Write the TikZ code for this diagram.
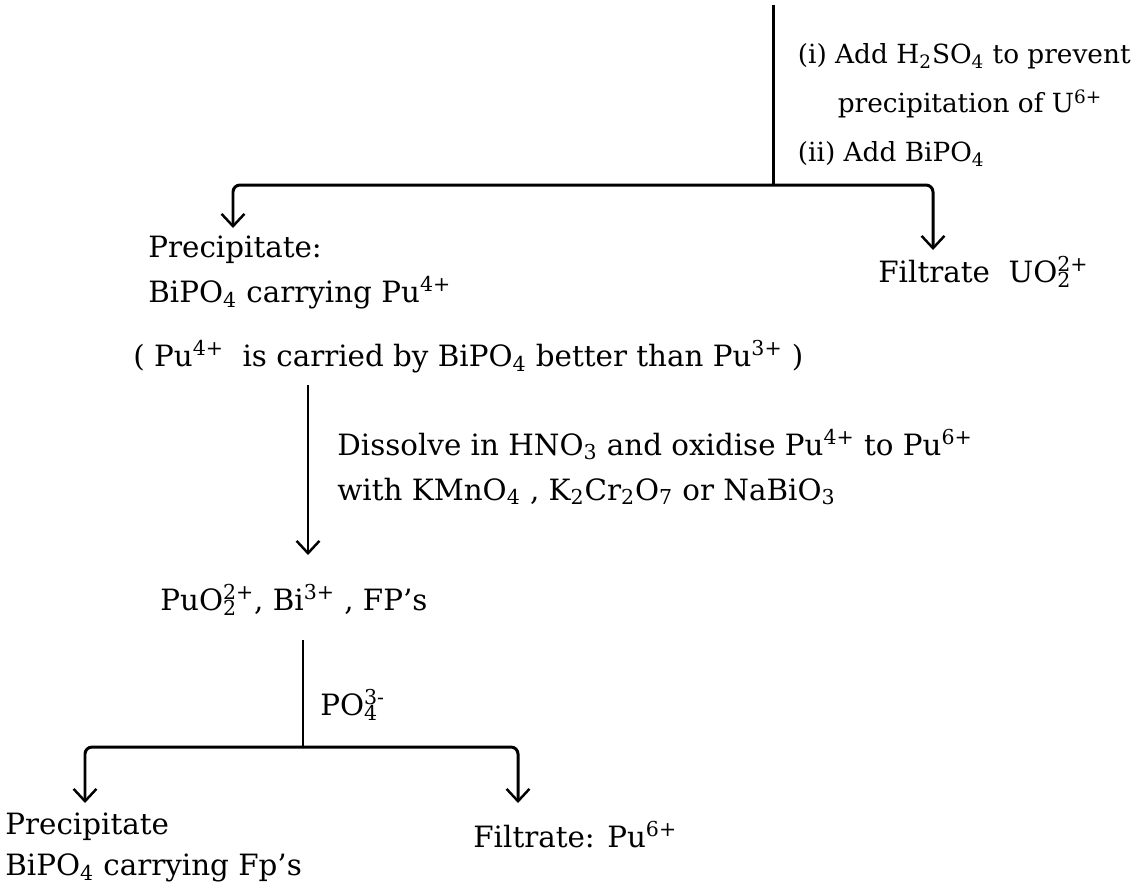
\documentclass[tikz,border=0pt]{standalone}
\usepackage{fontspec}
\setmainfont{DejaVu Serif}
\usetikzlibrary{arrows.meta,positioning,calc}
\newcommand{\sbs}[1]{\textsubscript{#1}}
\newcommand{\sps}[1]{\textsuperscript{#1}}
\newcommand{\sbsps}[2]{\rlap{\textsubscript{#1}}\textsuperscript{#2}}

\begin{document}
\begin{tikzpicture}[
    txt/.style={anchor=west, inner sep=0pt, align=left, font=\fontsize{16.7}{25.5}\selectfont},
    ln/.style={line width=1.7pt, rounded corners=4pt},
    arr/.style={ln, -{Straight Barb[length=7pt,width=13pt,line width=1.4pt]}}
]
\useasboundingbox (0,0) rectangle (22.72,-17.74);
% first step: BiPO4 carrier
\coordinate (feed) at (15.46,-0.1);
\coordinate (sp1) at (15.46,-3.7);
\coordinate (t1) at (4.66,-4.56);
\coordinate (t2) at (18.66,-5.0);
\node[txt, font=\fontsize{15}{28}\selectfont] (cond1) at (15.95,-2.1) {(i) Add H\sbs{2}SO\sbs{4} to prevent\\ \hspace{0.8cm}precipitation of U\sps{6+}\\ (ii) Add BiPO\sbs{4}};
\node[txt] (prec1) at (2.96,-5.45) {Precipitate:\\ BiPO\sbs{4} carrying Pu\sps{4+}};
\node[txt] (filt1) at (17.56,-5.44) {Filtrate \ UO\sbsps{2}{2+}};
\node[txt] (note) at (2.66,-7.14) {( Pu\sps{4+} \ is carried by BiPO\sbs{4} better than Pu\sps{3+} )};
\draw[ln] (feed) -- (sp1);
\draw[arr] (sp1) -| (t1);
\draw[arr] (sp1) -| (t2);
% second step: dissolve and oxidise
\coordinate (a2s) at (6.16,-7.7);
\coordinate (a2e) at (6.16,-11.1);
\node[txt] (cond2) at (6.74,-9.34) {Dissolve in HNO\sbs{3} and oxidise Pu\sps{4+} to Pu\sps{6+}\\ with KMnO\sbs{4} , K\sbs{2}Cr\sbs{2}O\sbs{7} or NaBiO\sbs{3}};
\draw[arr] (a2s) -- (a2e);
\node[txt] (mix) at (3.2,-12.0) {PuO\sbsps{2}{2+}, Bi\sps{3+} , FP's};
% third step: phosphate
\coordinate (a3s) at (6.06,-12.8);
\coordinate (sp3) at (6.06,-14.94);
\coordinate (t3) at (1.7,-16.06);
\coordinate (t4) at (10.36,-16.06);
\node[txt] (cond3) at (6.4,-14.1) {PO\sbsps{4}{3-}};
\draw[ln] (a3s) -- (sp3);
\draw[arr] (sp3) -| (t3);
\draw[arr] (sp3) -| (t4);
\node[txt, font=\fontsize{16.7}{23}\selectfont] (prec2) at (0.1,-16.95) {Precipitate\\ BiPO\sbs{4} carrying Fp's};
\node[txt] (filt2) at (9.46,-16.7) {Filtrate: Pu\sps{6+}};
\end{tikzpicture}
\end{document}
